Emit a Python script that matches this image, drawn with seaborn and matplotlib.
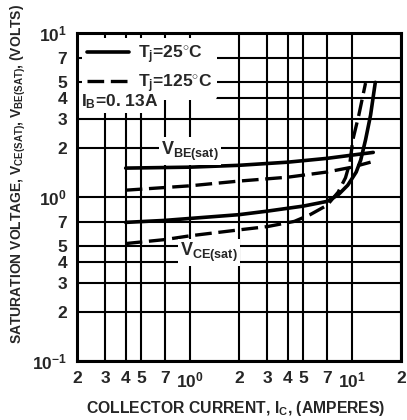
import numpy as np
import pandas as pd
import matplotlib
matplotlib.use("Agg")
import matplotlib.pyplot as plt
import seaborn as sns

# ------------------ Data ------------------
vbe_25_ic = [0.4, 1.0, 2.0, 4.0, 7.0, 10.0, 13.5]
vbe_25_v = [1.50, 1.52, 1.56, 1.63, 1.72, 1.80, 1.87]

vbe_125_ic = [0.4, 1.0, 2.0, 4.0, 7.0, 10.0, 13.0]
vbe_125_v = [1.10, 1.17, 1.25, 1.32, 1.42, 1.52, 1.63]

vce_25_ic = [0.4, 0.7, 1.0, 2.0, 3.0, 5.0, 7.0, 8.2, 9.4, 10.6, 11.3, 12.1, 13.0, 13.9]
vce_25_v = [0.70, 0.72, 0.74, 0.78, 0.82, 0.88, 0.94, 1.03, 1.18, 1.42, 1.68, 2.23, 3.16, 5.0]

vce_125_ic = [0.4, 0.7, 1.0, 2.0, 3.0, 4.4, 5.5, 7.0, 8.2, 9.1, 9.7, 10.1, 11.0, 12.1]
vce_125_v = [0.52, 0.55, 0.58, 0.63, 0.66, 0.71, 0.78, 0.89, 1.07, 1.31, 1.63, 2.23, 3.16, 4.95]

x_ticks = [0.2, 0.3, 0.4, 0.5, 0.7, 1, 2, 3, 4, 5, 7, 10, 20]
x_labels = ['2', '3', '4', '5', '7', '$10^{0}$', '2', '3', '4', '5', '7', '$10^{1}$', '2']
y_ticks = [0.1, 0.2, 0.3, 0.4, 0.5, 0.7, 1, 2, 3, 4, 5, 7, 10]
y_labels = ['$10^{-1}$', '2', '3', '4', '5', '7', '$10^{0}$', '2', '3', '4', '5', '7', '$10^{1}$']

sns.set_style("white")
plt.rcParams['font.family'] = ['Liberation Sans', 'DejaVu Sans']
plt.rcParams['font.weight'] = 'bold'
plt.rcParams['mathtext.fontset'] = 'custom'
plt.rcParams['mathtext.rm'] = 'Liberation Sans:bold'
plt.rcParams['mathtext.bf'] = 'Liberation Sans:bold'
plt.rcParams['mathtext.it'] = 'Liberation Sans:bold'
plt.rcParams['mathtext.default'] = 'rm'

fig = plt.figure(figsize=(4.07, 4.20), dpi=100)
ax = fig.add_axes([0.189, 0.1405, 0.796, 0.781])

# ------------------ Curves ------------------
dash = (0, (5, 2))
sns.lineplot(x=vbe_25_ic, y=vbe_25_v, ax=ax, color='black', lw=2.6, sort=False,
             label='T$_{j}$=25$^{\\circ}$C')
sns.lineplot(x=vbe_125_ic, y=vbe_125_v, ax=ax, color='black', lw=2.4, sort=False,
             linestyle=dash, label='T$_{j}$=125$^{\\circ}$C')
sns.lineplot(x=vce_25_ic, y=vce_25_v, ax=ax, color='black', lw=2.6, sort=False)
sns.lineplot(x=vce_125_ic, y=vce_125_v, ax=ax, color='black', lw=2.4, sort=False,
             linestyle=dash)

ax.set_xscale('log')
ax.set_yscale('log')
ax.set_xlim(0.2, 20)
ax.set_ylim(0.1, 10)
ax.set_xticks(x_ticks)
ax.set_xticklabels(x_labels)
ax.set_yticks(y_ticks)
ax.set_yticklabels(y_labels)
ax.xaxis.set_minor_locator(matplotlib.ticker.NullLocator())
ax.yaxis.set_minor_locator(matplotlib.ticker.NullLocator())
ax.tick_params(axis='both', which='major', direction='out', length=4, width=1.5,
               color='black', labelsize=12.5, pad=3)
ax.grid(True, which='major', color='black', lw=1.5)
for s in ax.spines.values():
    s.set_color('black')
    s.set_linewidth(2.2)

# ------------------ Labels ------------------
ax.text(0.66, 1.9, r'$V_{BE(sat)}$', fontsize=13, ha='left', va='center',
        bbox=dict(facecolor='white', edgecolor='none', pad=1.5), zorder=5)
ax.text(0.87, 0.46, r'$V_{CE(sat)}$', fontsize=13, ha='left', va='center',
        bbox=dict(facecolor='white', edgecolor='none', pad=1.5), zorder=5)

leg = ax.legend(loc='upper left', fontsize=12.5, frameon=True, handlelength=2.4,
                handletextpad=0.5, borderaxespad=0.3, borderpad=0.3, labelspacing=0.35)
leg.get_frame().set_facecolor('white')
leg.get_frame().set_edgecolor('none')
leg.get_frame().set_alpha(1)
ax.text(0.012, 0.79, r'I$_{B}$=0. 13A', transform=ax.transAxes, fontsize=12.5,
        ha='left', va='center', zorder=6,
        bbox=dict(facecolor='white', edgecolor='none', pad=1))

ax.set_xlabel('')
ax.set_ylabel('')
fig.text(0.58, 0.028, r'COLLECTOR CURRENT, I$_{C}$, (AMPERES)', ha='center',
         va='center', fontsize=11.3, fontweight='bold')
fig.text(0.045, 0.585, r'SATURATION VOLTAGE, V$_{CE(SAT)}$, V$_{BE(SAT)}$, (VOLTS)',
         ha='center', va='center', rotation=90, fontsize=10, fontweight='bold')

plt.savefig('out.png', dpi=100)
plt.close()
